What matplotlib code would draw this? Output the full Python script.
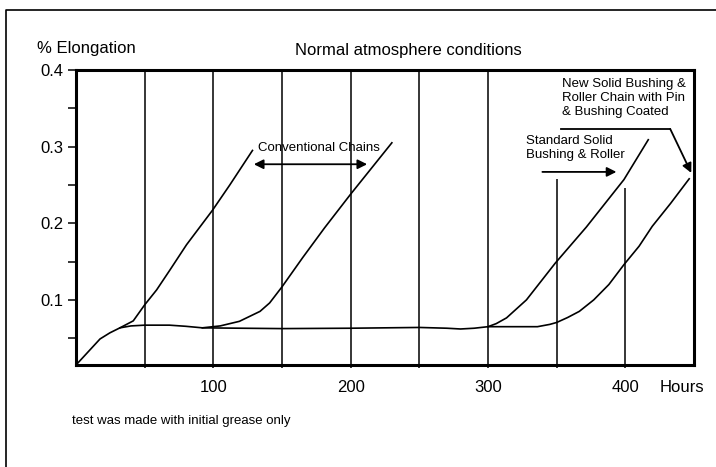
import matplotlib.pyplot as plt
from matplotlib.lines import Line2D

plt.rcParams['font.family'] = ['Liberation Sans', 'DejaVu Sans']

# hours / % elongation
main_hours = [0, 17.5, 24.7, 32, 40, 50, 68, 80, 92, 120, 150, 200, 250, 270, 280, 290, 300,
              320, 336, 345, 350, 358, 366.5, 377, 388, 399, 410, 419.6, 433, 446.5]
main_elong = [0.015, 0.049, 0.057, 0.0635, 0.066, 0.067, 0.067, 0.0655, 0.0635, 0.063, 0.0625,
              0.063, 0.064, 0.063, 0.062, 0.063, 0.065, 0.065, 0.065, 0.068, 0.0705, 0.077,
              0.085, 0.1, 0.12, 0.146, 0.17, 0.196, 0.226, 0.258]

conv1_hours = [32, 41.7, 50, 58.7, 68.4, 80.5, 99.4, 112, 128.5]
conv1_elong = [0.0635, 0.0726, 0.0935, 0.113, 0.139, 0.172, 0.217, 0.25, 0.295]

conv2_hours = [92, 105, 119, 134, 141, 150, 165, 181, 200, 230]
conv2_elong = [0.0635, 0.066, 0.072, 0.085, 0.096, 0.117, 0.155, 0.194, 0.238, 0.305]

std_hours = [300, 306, 313.5, 328, 349, 371.6, 399, 416.7]
std_elong = [0.065, 0.069, 0.0765, 0.1, 0.148, 0.195, 0.257, 0.309]

grid_hours = [50, 100, 150, 200, 250, 300, 350, 400]
grid_top = [0.4, 0.4, 0.4, 0.4, 0.4, 0.4, 0.258, 0.246]

x_ticks = [100, 200, 300, 400]
y_ticks = [0.1, 0.2, 0.3, 0.4]

W, H = 716, 467
fig = plt.figure(figsize=(W / 100, H / 100), dpi=100)
ax = fig.add_axes([76 / W, 1 - 365 / H, (694 - 76) / W, (365 - 70) / H])

ymin = 0.015
ax.set_xlim(0, 450)
ax.set_ylim(ymin, 0.4)

for h, top in zip(grid_hours, grid_top):
    ax.plot([h, h], [ymin, top], color='black', lw=1.1, solid_capstyle='butt')

for xs, ys in [(main_hours, main_elong), (conv1_hours, conv1_elong),
               (conv2_hours, conv2_elong), (std_hours, std_elong)]:
    ax.plot(xs, ys, color='black', lw=1.2)

for s in ax.spines.values():
    s.set_linewidth(2.2)

ax.set_xticks(x_ticks)
ax.set_xticklabels([str(t) for t in x_ticks])
ax.set_xticks(grid_hours, minor=True)
ax.set_yticks(y_ticks)
ax.set_yticklabels([str(t) for t in y_ticks])
ax.set_yticks([0.05, 0.15, 0.25, 0.35], minor=True)
ax.tick_params(axis='y', which='both', length=6, width=1.1, pad=3, labelsize=12)
ax.tick_params(axis='x', which='both', length=2, width=1.1, pad=9, labelsize=12)

# annotations
txt = dict(fontsize=9.5, color='black')
ax.text(176.7, 0.2985, 'Conventional Chains', ha='center', va='center', **txt)
ax.annotate('', xy=(129.5, 0.277), xytext=(212, 0.277),
            arrowprops=dict(arrowstyle='<|-|>', color='black', lw=1.3, mutation_scale=14,
                            shrinkA=0, shrinkB=0))

ax.text(327.5, 0.298, 'Standard Solid\nBushing & Roller', ha='left', va='center',
        linespacing=1.2, **txt)
ax.annotate('', xy=(393.5, 0.267), xytext=(339.6, 0.267),
            arrowprops=dict(arrowstyle='-|>', color='black', lw=1.3, mutation_scale=14,
                            shrinkA=0, shrinkB=0))

ax.text(354, 0.3635, 'New Solid Bushing &\nRoller Chain with Pin\n& Bushing Coated',
        ha='left', va='center', linespacing=1.2, **txt)
ax.plot([353.5, 432.7], [0.323, 0.323], color='black', lw=1.3)
ax.annotate('', xy=(448, 0.2657), xytext=(432.7, 0.323),
            arrowprops=dict(arrowstyle='-|>', color='black', lw=1.3, mutation_scale=14,
                            shrinkA=0, shrinkB=0))

# figure texts
fig.text(37 / W, 1 - 48 / H, '% Elongation', fontsize=12, ha='left', va='center')
fig.text(408 / W, 1 - 50 / H, 'Normal atmosphere conditions', fontsize=12,
         ha='center', va='center')
fig.text(660 / W, 1 - 387 / H, 'Hours', fontsize=12, ha='left', va='center')
fig.text(72 / W, 1 - 421 / H, 'test was made with initial grease only', fontsize=9.5,
         ha='left', va='center')

# outer frame of the original figure
fig.add_artist(Line2D([6 / W, 6 / W, 1], [0, 1 - 9.5 / H, 1 - 9.5 / H],
                      transform=fig.transFigure, color='black', lw=1.2))

fig.savefig('out.png', dpi=100)
